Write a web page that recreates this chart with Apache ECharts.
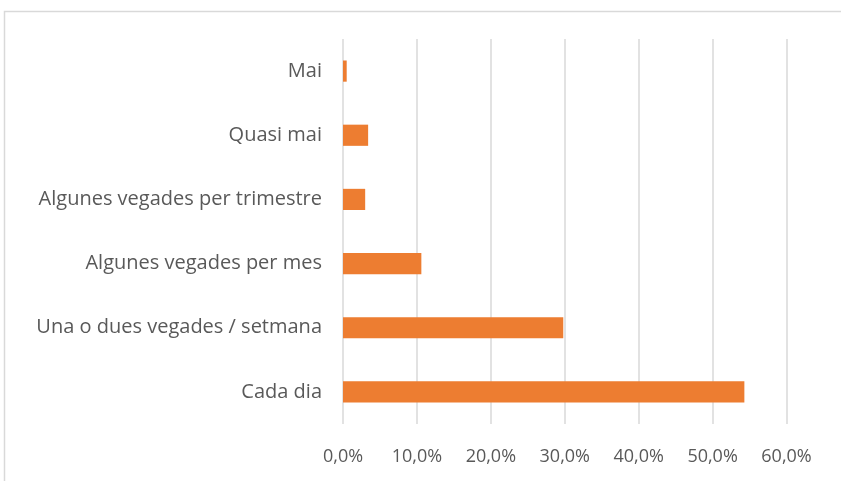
<!DOCTYPE html>
<html>
<head>
<meta charset="utf-8">
<script src="https://cdn.jsdelivr.net/npm/echarts@6/dist/echarts.min.js"></script>
<style>
  html, body { margin: 0; padding: 0; background: #fff; }
  #chart { width: 841px; height: 481px; }
</style>
</head>
<body>
<div id="chart"></div>
<script>
// categories, bottom to top as ECharts draws a category y axis
const categories = [
  'Cada dia',
  'Una o dues vegades / setmana',
  'Algunes vegades per mes',
  'Algunes vegades per trimestre',
  'Quasi mai',
  'Mai'
]
// share of answers (percent)
const shares = [54.3, 29.8, 10.6, 3.0, 3.4, 0.5]
const axisTicks = [0, 10, 20, 30, 40, 50, 60]

const chart = echarts.init(document.getElementById('chart'))

chart.setOption({
  animation: false,
  // outer frame of the chart area, as in the original spreadsheet export
  graphic: [
    {
      type: 'rect',
      shape: { x: 4.5, y: 11.5, width: 900, height: 600 },
      style: { fill: 'none', stroke: '#d9d9d9', lineWidth: 1.5 },
      silent: true
    }
  ],
  grid: {
    left: 343,
    top: 39,
    width: 443.5,
    height: 385
  },
  xAxis: {
    type: 'value',
    min: axisTicks[0],
    max: axisTicks[axisTicks.length - 1],
    interval: 10,
    axisLine: { show: false },
    axisTick: { show: false },
    splitLine: { lineStyle: { color: '#d9d9d9', width: 1.5 } },
    axisLabel: {
      color: '#595959',
      fontFamily: 'Open Sans',
      fontSize: 18,
      margin: 24,
      formatter: v => v.toFixed(1).replace('.', ',') + '%'
    }
  },
  yAxis: {
    type: 'category',
    data: categories,
    axisLine: { show: false },
    axisTick: { show: false },
    axisLabel: {
      color: '#595959',
      fontFamily: 'Open Sans',
      fontSize: 20,
      margin: 21
    }
  },
  series: [
    {
      type: 'bar',
      data: shares,
      barWidth: '33%',
      itemStyle: { color: '#ed7d31' }
    }
  ]
})
</script>
</body>
</html>
